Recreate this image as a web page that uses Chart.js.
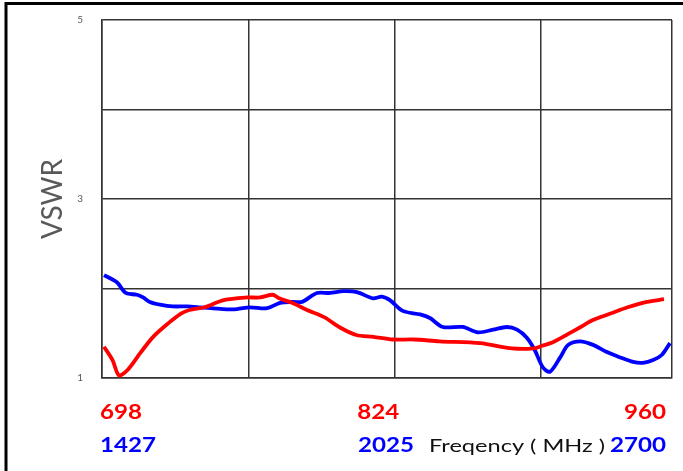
<!DOCTYPE html>
<html>
<head>
<meta charset="utf-8">
<script src="https://cdn.jsdelivr.net/npm/chart.js@4/dist/chart.umd.min.js"></script>
<style>
html,body{margin:0;padding:0;background:#fff;}
canvas{display:block;}
</style>
</head>
<body>
<canvas id="c" width="683" height="471"></canvas>
<script>
// Low band (red) : frequency in MHz and VSWR
const redFreq = [698,702,705,709,715,721,728,734,738,745,754,765,771,777,780,786,793,801,808,816,824,833,843,855,874,889,899,903,908,915,921,927,935,943,952,960];
const redVswr = [1.35,1.20,1.03,1.09,1.28,1.46,1.61,1.72,1.76,1.79,1.87,1.90,1.90,1.93,1.89,1.84,1.76,1.68,1.57,1.48,1.46,1.43,1.43,1.41,1.39,1.33,1.33,1.36,1.40,1.49,1.57,1.65,1.72,1.79,1.85,1.88];
// High band (blue)
const blueFreq = [1427,1456,1476,1501,1515,1530,1553,1582,1614,1643,1695,1726,1755,1794,1823,1852,1872,1906,1935,1965,1996,2032,2052,2070,2099,2138,2160,2189,2234,2268,2302,2333,2356,2378,2396,2414,2430,2453,2471,2498,2527,2558,2588,2617,2639,2662,2682,2700];
const blueVswr = [2.15,2.07,1.95,1.93,1.90,1.85,1.82,1.80,1.80,1.79,1.77,1.77,1.79,1.78,1.84,1.85,1.85,1.95,1.95,1.97,1.96,1.89,1.91,1.87,1.75,1.71,1.67,1.57,1.57,1.51,1.54,1.57,1.54,1.45,1.31,1.12,1.07,1.23,1.37,1.41,1.37,1.29,1.23,1.18,1.17,1.20,1.26,1.39];
// Tick labels
const yTickLabels = [1,3,5];
const redTickLabels = ['698','824','960'];
const blueTickLabels = ['1427','2025','2700'];
const xTitle = 'Freqency ( MHz )';
const yTitle = 'VSWR';

const redRange = [697.06, 963.74];
const blueRange = [1422.5, 2704.5];
const colFrac = 0.2567;

const framePlugin = {
  id: 'frame',
  afterDraw(chart) {
    const ctx = chart.ctx;
    const a = chart.chartArea;
    const xr = chart.scales.xr;
    const xb = chart.scales.xb;
    ctx.save();
    // outer frame
    ctx.strokeStyle = '#000';
    ctx.lineWidth = 3;
    ctx.beginPath();
    ctx.moveTo(6, 471);
    ctx.lineTo(6, 3.5);
    ctx.lineTo(683, 3.5);
    ctx.stroke();

    function txt(s, x, y, align, font, color, sx) {
      ctx.font = font;
      ctx.fillStyle = color;
      ctx.textBaseline = 'alphabetic';
      const w = ctx.measureText(s).width * sx;
      let left = x;
      if (align === 'center') left = x - w / 2;
      else if (align === 'right') left = x - w;
      ctx.save();
      ctx.translate(left, y);
      ctx.scale(sx, 1);
      ctx.textAlign = 'left';
      ctx.fillText(s, 0, 0);
      ctx.restore();
    }
    const bold = 'bold 21px Lato';
    ctx.font = bold;
    const sx = 42 / ctx.measureText('698').width;
    const y1 = 419, y2 = 452;
    txt(redTickLabels[0], a.left - 2, y1, 'left', bold, '#ff0000', sx);
    txt(redTickLabels[1], xr.getPixelForValue(+redTickLabels[1]) + 5, y1, 'center', bold, '#ff0000', sx);
    txt(redTickLabels[2], a.right - 6, y1, 'right', bold, '#ff0000', sx);
    txt(blueTickLabels[0], a.left - 2, y2, 'left', bold, '#0000ff', sx);
    txt(blueTickLabels[1], xb.getPixelForValue(+blueTickLabels[1]) - 12, y2, 'left', bold, '#0000ff', sx);
    txt(blueTickLabels[2], a.right - 6, y2, 'right', bold, '#0000ff', sx);
    const nf = '17px Lato';
    ctx.font = nf;
    const sx2 = 176 / ctx.measureText(xTitle).width;
    txt(xTitle, 429, y2, 'left', nf, '#111', sx2);
    ctx.restore();
  }
};

new Chart(document.getElementById('c'), {
  type: 'line',
  data: {
    datasets: [
      {
        data: redFreq.map((f, i) => ({x: f, y: redVswr[i]})),
        xAxisID: 'xr', yAxisID: 'y',
        borderColor: '#ff0000', borderWidth: 3.8, pointRadius: 0, tension: 0.3, fill: false
      },
      {
        data: blueFreq.map((f, i) => ({x: f, y: blueVswr[i]})),
        xAxisID: 'xb', yAxisID: 'y',
        borderColor: '#0000ff', borderWidth: 3.8, pointRadius: 0, tension: 0.3, fill: false
      }
    ]
  },
  options: {
    responsive: false,
    devicePixelRatio: 1,
    animation: false,
    layout: {padding: {left: 0, top: 20, right: 11, bottom: 0}},
    plugins: {legend: {display: false}, tooltip: {enabled: false}},
    scales: {
      xr: {
        type: 'linear', position: 'bottom',
        min: redRange[0], max: redRange[1],
        afterBuildTicks(s) {
          const span = s.max - s.min;
          s.ticks = [0, 1, 2, 3].map(k => ({value: s.min + k * span * colFrac})).concat([{value: s.max}]);
        },
        afterFit(s) { s.height = 93; s.paddingLeft = 0; s.paddingRight = 0; },
        ticks: {display: false},
        grid: {color: '#333', lineWidth: 1.5, drawTicks: false},
        border: {color: '#333', width: 1.5}
      },
      xb: {
        type: 'linear', position: 'bottom', display: false,
        min: blueRange[0], max: blueRange[1]
      },
      y: {
        type: 'linear', position: 'left',
        min: 1, max: 5,
        afterFit(s) { s.width = 102; s.paddingTop = 0; s.paddingBottom = 0; },
        ticks: {
          stepSize: 1,
          padding: 19,
          color: '#595959',
          font: {size: 10, family: 'Lato'},
          callback: v => yTickLabels.includes(v) ? String(v) : ''
        },
        grid: {color: '#333', lineWidth: 1.5, drawTicks: false},
        border: {color: '#333', width: 1.5},
        title: {
          display: true, text: yTitle, color: '#595959',
          font: {size: 28, family: 'Lato'},
          padding: {top: 36, bottom: 0}
        }
      }
    }
  },
  plugins: [framePlugin]
});
</script>
</body>
</html>
